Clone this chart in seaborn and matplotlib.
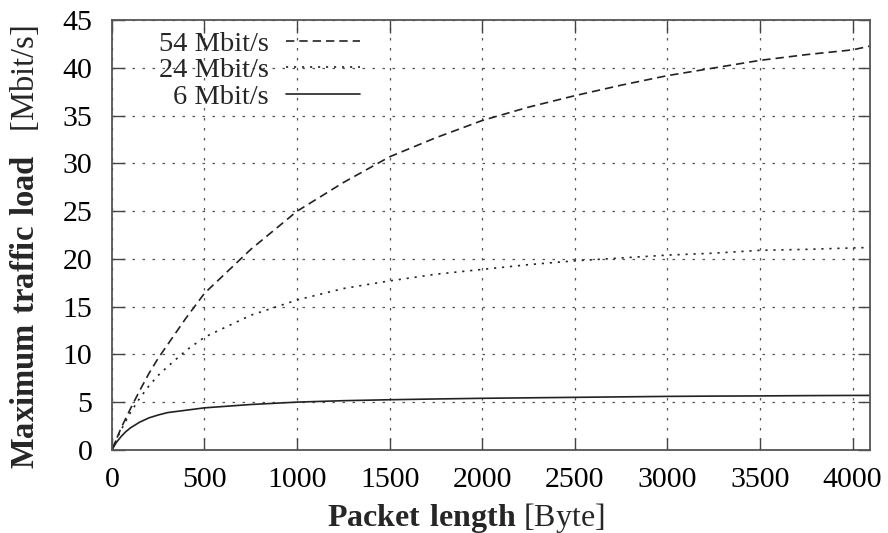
import numpy as np
import pandas as pd
import seaborn as sns
import matplotlib.pyplot as plt

# values
packet_len = [0, 25, 50, 75, 100, 150, 200, 250, 300, 400, 500, 750, 1000,
              1250, 1500, 1750, 2000, 2250, 2500, 2750, 3000, 3250, 3500,
              3750, 4000, 4095]
load_54 = [0, 1.15, 2.3, 3.3, 4.3, 6.2, 8.0, 9.6, 11.0, 13.8, 16.4, 21.0, 25.0,
           28.0, 30.7, 32.7, 34.5, 35.9, 37.1, 38.2, 39.2, 40.0, 40.8,
           41.4, 41.9, 42.3]
load_24 = [0, 1.1, 2.1, 3.0, 3.9, 5.4, 6.7, 7.8, 8.7, 10.4, 11.8, 14.1, 15.7,
           16.9, 17.7, 18.4, 18.9, 19.4, 19.8, 20.1, 20.4, 20.6, 20.9,
           21.0, 21.15, 21.2]
load_6 = [0, 0.8, 1.4, 1.9, 2.3, 2.9, 3.35, 3.65, 3.9, 4.15, 4.4, 4.75, 5.0,
          5.15, 5.25, 5.33, 5.4, 5.45, 5.5, 5.55, 5.6, 5.63, 5.65,
          5.68, 5.7, 5.7]
series_names = ['54 Mbit/s', '24 Mbit/s', '6 Mbit/s']

df = pd.concat([
    pd.DataFrame({'len': packet_len, 'load': vals, 'rate': name})
    for name, vals in zip(series_names, [load_54, load_24, load_6])
])

sns.set_theme(style='ticks')
plt.rcParams['font.family'] = ['Liberation Serif', 'DejaVu Serif']
plt.rcParams['mathtext.fontset'] = 'custom'
plt.rcParams['mathtext.rm'] = 'Liberation Serif'
plt.rcParams['mathtext.bf'] = 'Liberation Serif:bold'

fig = plt.figure(figsize=(8.88, 5.33), dpi=100)
ax = fig.add_axes([0.126, 0.156, 0.854, 0.806])

line_col = '#222222'
sns.lineplot(data=df, x='len', y='load', hue='rate', style='rate',
             palette={n: line_col for n in series_names},
             dashes={'54 Mbit/s': (5, 3), '24 Mbit/s': (1.3, 3.5), '6 Mbit/s': ''},
             linewidth=1.2, ax=ax, legend=True)

ax.set_xlim(0, 4095)
ax.set_ylim(0, 45)
ax.set_xticks(np.arange(0, 4001, 500))
ax.set_yticks(np.arange(0, 46, 5))

ax.grid(True, color='#555555', linestyle=(0, (2, 6)), linewidth=0.9)
ax.tick_params(direction='in', length=9, width=1, top=True, right=True,
               labelsize=21.5, colors='#444444', labelcolor='black')
ax.tick_params(axis='x', pad=12)
ax.tick_params(axis='y', pad=14)
for sp in ax.spines.values():
    sp.set_color('#555555')
    sp.set_linewidth(1.3)

ax.set_xlabel(r'$\mathbf{Packet\ length}$ [Byte]', fontsize=23)
ax.xaxis.set_label_coords(0.466, -0.118)
ax.set_ylabel(r'$\mathbf{Maximum\ traffic\ load}$   [Mbit/s]', fontsize=23.5)
ax.yaxis.set_label_coords(-0.093, 0.472)

handles, labels = ax.get_legend_handles_labels()
ax.legend(handles, labels, loc='upper right', bbox_to_anchor=(0.327, 0.975),
          frameon=False, markerfirst=False, fontsize=20.5, handlelength=2.6,
          handletextpad=0.6, labelspacing=0.02, borderpad=0, borderaxespad=0)

fig.savefig('out.png', dpi=100)
